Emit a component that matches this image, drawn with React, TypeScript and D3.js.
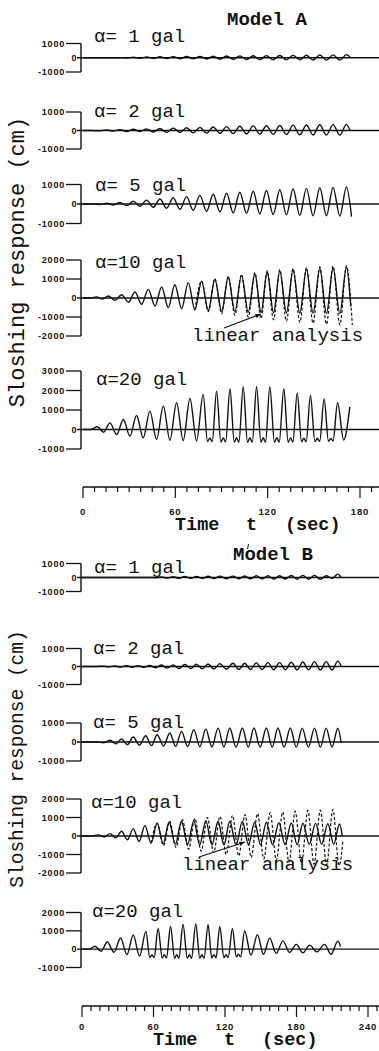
import * as d3 from "d3";
import { useEffect, useRef } from "react";

type Pt = [number, number];

const W = 379;
const H = 1051;

// time-axis ticks (sec)
const timeTicksA = [0, 60, 120, 180];
const timeTicksB = [0, 60, 120, 180, 240];

// response-axis ticks (cm)
const ticksPm1 = [-1000, 0, 1000];
const ticksPm2 = [-2000, -1000, 0, 1000, 2000];
const ticksA20 = [-1000, 0, 1000, 2000, 3000];
const ticksB20 = [-1000, 0, 1000, 2000];

const alphaLabels = ["α= 1 gal", "α= 2 gal", "α= 5 gal", "α=10 gal", "α=20 gal"];

const a1: Pt[] = [[0,0],[24,0],[28.4,-20],[32.7,40],[37,-40],[41.3,60],[45.7,-50],[50,70],[54.3,-60],[58.6,80],[63,-70],[67.3,90],[71.6,-80],[76,100],[80.3,-90],[84.6,110],[89,-100],[93.3,120],[97.6,-110],[101.9,130],[106.3,-120],[110.6,140],[114.9,-130],[119.2,150],[123.6,-140],[127.9,160],[132.2,-150],[136.5,170],[140.9,-150],[145.2,180],[149.5,-160],[153.9,190],[158.2,-170],[162.5,200],[166.9,-170],[171.2,220],[174,0]];
const a2: Pt[] = [[0,0],[6,0],[11,-20],[15.4,30],[19.7,-30],[24,50],[28.4,-50],[32.7,70],[37,-60],[41.3,90],[45.7,-80],[50,110],[54.3,-100],[58.6,130],[63,-110],[67.3,150],[71.6,-130],[76,170],[80.3,-140],[84.6,190],[89,-160],[93.3,210],[97.6,-170],[101.9,230],[106.3,-190],[110.6,250],[114.9,-200],[119.2,260],[123.6,-210],[127.9,270],[132.2,-220],[136.5,290],[140.9,-230],[145.2,300],[149.5,-240],[153.9,310],[158.2,-250],[162.5,320],[166.9,-250],[171.2,330],[173.5,0]];
const a5g: Pt[] = [[0,0],[8,0],[11,-30],[15.4,40],[19.7,-50],[24,80],[28.4,-80],[32.7,140],[37,-120],[41.3,200],[45.7,-170],[50,260],[54.3,-220],[58.6,320],[63,-270],[67.3,380],[71.6,-320],[76,440],[80.3,-370],[84.6,500],[89,-410],[93.3,550],[97.6,-450],[101.9,600],[106.3,-480],[110.6,650],[114.9,-510],[119.2,690],[123.6,-540],[127.9,730],[132.2,-560],[136.5,770],[140.9,-580],[145.2,800],[149.5,-600],[153.9,830],[158.2,-610],[162.5,850],[166.9,-620],[171.2,870],[174.5,-650]];
const a10: Pt[] = [[0,0],[5,0],[8.9,60],[12.7,-60],[16.5,105],[20.8,-120],[25.1,175],[29.5,-220],[33.8,315],[38.1,-330],[42.4,455],[46.8,-420],[51.1,580],[55.4,-500],[59.7,700],[64.1,-560],[68.4,810],[72.7,-620],[77.1,880],[81.4,-660],[85.7,980],[90.1,-700],[94.4,1090],[98.7,-720],[103,1190],[107.4,-740],[111.7,1280],[115.7,-760],[119.7,1370],[123.8,-780],[127.9,1420],[132.2,-780],[136.5,1470],[140.9,-800],[145.2,1520],[149.5,-800],[153.9,1560],[158.2,-820],[162.5,1580],[166.9,-820],[171.2,1620],[174,-450]];
const a10lin: Pt[] = [[72.7,-620],[77.1,880],[81.4,-720],[85.7,1010],[90.1,-820],[94.4,1130],[98.7,-900],[103,1240],[107.4,-1000],[111.7,1340],[115.7,-1080],[119.7,1430],[123.8,-1150],[127.9,1490],[132.2,-1220],[136.5,1550],[140.9,-1280],[145.2,1600],[149.5,-1330],[153.9,1640],[158.2,-1380],[162.5,1680],[166.9,-1420],[171.2,1700],[175,-1420]];
const a20: Pt[] = [[0,0],[5,0],[9.3,140],[13.4,-140],[17.5,340],[21.9,-260],[26.2,510],[30.5,-340],[34.8,720],[39.1,-430],[43.5,940],[47.8,-510],[52.2,1200],[56.5,-550],[60.8,1370],[65.1,-570],[69.5,1590],[73.8,-590],[78.1,1800],[80.9,-620],[82.4,-440],[84,-620],[86.8,1970],[89.6,-640],[91.1,-430],[92.7,-640],[95.5,2090],[98.3,-650],[99.8,-420],[101.3,-650],[104.1,2190],[106.9,-650],[108.45,-420],[110,-650],[112.8,2190],[115.6,-650],[117.1,-420],[118.6,-650],[121.4,2190],[124.4,-650],[126,-420],[127.5,-650],[130.5,2090],[133.3,-650],[134.85,-430],[136.4,-640],[139.2,1880],[142,-630],[143.5,-440],[145,-630],[147.8,1740],[150.7,-620],[152.25,-450],[153.8,-610],[156.7,1570],[159.5,-600],[161,-460],[162.5,-590],[165.4,1370],[169.4,-540],[173.4,1160]];

// Model B traces
const b1: Pt[] = [[0,0],[60,0],[61.8,-20],[66.7,40],[71.6,-40],[76.5,60],[81.4,-60],[86.3,70],[91.2,-60],[96.1,80],[101,-70],[105.8,90],[110.7,-80],[115.6,100],[121.2,-90],[126.7,100],[131.6,-90],[136.5,110],[141.4,-100],[146.3,120],[151.2,-100],[156,120],[160.9,-110],[165.8,130],[170.7,-110],[175.6,140],[180.5,-120],[185.3,150],[190.2,-120],[195.1,150],[200,-130],[204.9,130],[209.8,-60],[214.7,240],[217.5,0]];
const b2: Pt[] = [[0,0],[12,0],[17.7,20],[22.6,-20],[27.5,30],[32.4,-30],[37.3,40],[42.2,-40],[47.1,50],[52,-50],[56.9,60],[61.8,-70],[66.7,80],[71.6,-90],[76.5,90],[81.4,-110],[86.3,110],[91.2,-120],[96.1,125],[101,-130],[105.8,140],[110.7,-140],[115.6,160],[121.2,-150],[126.7,180],[131.6,-160],[136.5,180],[141.4,-170],[146.3,200],[151.2,-170],[156,215],[160.9,-180],[165.8,215],[170.7,-180],[175.6,235],[180.5,-190],[185.3,250],[190.2,-190],[195.1,270],[200,-200],[204.9,270],[209.8,-200],[214.7,300],[217.5,0]];
const b5g: Pt[] = [[0,0],[12,0],[18.4,-40],[23.5,90],[28.4,-100],[33.2,160],[38.1,-140],[43,260],[48.2,-170],[53.4,330],[58.3,-190],[63.1,385],[68.4,-210],[73.7,470],[78.6,-230],[83.5,560],[88.7,-240],[93.8,650],[98.9,-250],[103.9,680],[109,-260],[114.2,730],[119.1,-260],[124,740],[129.3,-270],[134.6,740],[139.5,-270],[144.3,740],[149.5,-270],[154.7,740],[159.6,-270],[164.4,740],[169.6,-270],[174.8,740],[179.8,-270],[184.8,730],[190,-270],[195.1,730],[200,-270],[204.9,730],[209.8,-270],[214.7,720],[217.5,-50]];
const b10: Pt[] = [[0,0],[8,0],[13.7,60],[18.6,-50],[23.5,130],[28.4,-100],[33.2,260],[38.1,-200],[43,400],[47.9,-300],[52.8,560],[58,-380],[63.1,680],[68.1,-420],[73.1,760],[78.3,-450],[83.5,800],[88.6,-460],[93.8,820],[98.8,-470],[103.9,820],[109,-480],[114.2,800],[119.1,-480],[124,800],[129.3,-480],[134.6,780],[139.7,-480],[144.9,760],[149.8,-470],[154.7,740],[160,-470],[165.2,720],[170.4,-460],[175.6,700],[180.5,-460],[185.4,690],[190.7,-450],[196,680],[201.1,-450],[206.3,660],[211.2,-440],[216.1,650],[218.5,0]];
const b10lin: Pt[] = [[58,-380],[63.1,700],[68.4,-520],[73.6,800],[78.9,-620],[84.2,880],[89.5,-720],[94.7,950],[100,-820],[105.2,1000],[110.5,-900],[115.8,1060],[121,-1000],[126.3,1110],[131.5,-1080],[136.8,1160],[142,-1160],[147.3,1210],[152.6,-1240],[157.9,1260],[163.1,-1320],[168.4,1300],[173.7,-1400],[178.9,1340],[184.2,-1460],[189.5,1380],[194.7,-1520],[200,1400],[205.3,-1560],[210.5,1430],[215.8,-1600],[219,-200]];
const b20: Pt[] = [[0,0],[6,0],[10.9,160],[16,-120],[21.2,390],[26.8,-170],[32.4,610],[37.7,-300],[43,770],[48.3,-380],[53.6,970],[56.9,-460],[58.7,-300],[60.5,-470],[63.9,1130],[67.3,-480],[69.1,-300],[70.9,-480],[74.3,1240],[77.7,-490],[79.5,-300],[81.3,-490],[84.8,1350],[88.3,-490],[90.1,-300],[91.9,-490],[95.5,1370],[98.8,-490],[100.6,-300],[102.4,-490],[105.8,1330],[108.9,-480],[110.7,-300],[112.5,-480],[115.6,1230],[119.1,-460],[120.9,-300],[122.7,-460],[126.2,1130],[129.5,-420],[131.3,-280],[133.1,-420],[136.5,1000],[141.8,-330],[147.2,790],[152.3,-280],[157.5,600],[163,-230],[168.6,450],[174.2,-180],[179.8,260],[185.4,-200],[191,220],[197.2,-150],[203.5,260],[209,-280],[214.7,440],[217,150]];

const MONO = "'Liberation Mono', 'Courier New', monospace";
const SANS = "'Liberation Sans', Arial, sans-serif";

type Panel = { data: Pt[]; lin?: Pt[]; ticks: number[]; top: number; bot: number; lx: number; ly: number };

// layout of each strip: pixel span of the tick range, label anchor
const panelsA: Panel[] = [
  { data: a1, ticks: ticksPm1, top: 43.5, bot: 72, lx: 94, ly: 42 },
  { data: a2, ticks: ticksPm1, top: 112, bot: 149, lx: 94, ly: 117 },
  { data: a5g, ticks: ticksPm1, top: 184.5, bot: 223.5, lx: 95, ly: 191 },
  { data: a10, lin: a10lin, ticks: ticksPm2, top: 260, bot: 336, lx: 95, ly: 268 },
  { data: a20, ticks: ticksA20, top: 371, bot: 449, lx: 96, ly: 385 },
];
const panelsB: Panel[] = [
  { data: b1, ticks: ticksPm1, top: 563.5, bot: 591.5, lx: 94, ly: 573 },
  { data: b2, ticks: ticksPm1, top: 648.5, bot: 684.5, lx: 93, ly: 654 },
  { data: b5g, ticks: ticksPm1, top: 723, bot: 761, lx: 93, ly: 728 },
  { data: b10, lin: b10lin, ticks: ticksPm2, top: 799, bot: 873, lx: 91, ly: 808 },
  { data: b20, ticks: ticksB20, top: 912.5, bot: 967.5, lx: 92, ly: 917 },
];

export default function App() {
  const ref = useRef<SVGSVGElement>(null);

  useEffect(() => {
    if (!ref.current) return;
    const svg = d3.select(ref.current);
    svg.selectAll("*").remove();
    svg.append("rect").attr("width", W).attr("height", H).attr("fill", "#fff");

    const axisX = 81;
    const ink = "#111";

    const drawModel = (
      panels: Panel[],
      x: d3.ScaleLinear<number, number>,
      tTicks: number[],
      axisY: number,
      labelY: number,
      titleY: number,
      timeX: [number, number, number]
    ) => {
      panels.forEach((p, i) => {
        const lo = p.ticks[0];
        const hi = p.ticks[p.ticks.length - 1];
        const y = d3.scaleLinear().domain([lo, hi]).range([p.bot, p.top]);
        const g = svg.append("g");

        g.append("line")
          .attr("x1", axisX).attr("x2", axisX)
          .attr("y1", y(hi)).attr("y2", y(lo))
          .attr("stroke", ink).attr("stroke-width", 1.4);

        p.ticks.forEach((t) => {
          const yy = y(t);
          if (t === 0) {
            g.append("line")
              .attr("x1", 77).attr("x2", W)
              .attr("y1", yy).attr("y2", yy)
              .attr("stroke", ink).attr("stroke-width", 1.4);
            g.append("text")
              .attr("x", 76.5).attr("y", yy)
              .attr("text-anchor", "end").attr("dominant-baseline", "central")
              .attr("font-family", SANS).attr("font-size", 9).attr("font-weight", "bold")
              .attr("fill", ink).text("0");
          } else {
            g.append("line")
              .attr("x1", 66).attr("x2", axisX)
              .attr("y1", yy).attr("y2", yy)
              .attr("stroke", ink).attr("stroke-width", 1.3);
            g.append("text")
              .attr("x", 65).attr("y", yy)
              .attr("text-anchor", "end").attr("dominant-baseline", "central")
              .attr("font-family", SANS).attr("font-size", 9).attr("font-weight", "bold")
              .attr("letter-spacing", 0.8)
              .attr("fill", ink).text(String(t));
          }
        });

        const line = d3.line<Pt>()
          .x((d) => x(d[0]))
          .y((d) => y(d[1]))
          .curve(d3.curveMonotoneX);

        if (p.lin) {
          g.append("path")
            .attr("d", line(p.lin))
            .attr("fill", "none").attr("stroke", ink)
            .attr("stroke-width", 1.2).attr("stroke-dasharray", "3,2");
        }
        g.append("path")
          .attr("d", line(p.data))
          .attr("fill", "none").attr("stroke", ink)
          .attr("stroke-width", 1.4);

        g.append("text")
          .attr("x", p.lx).attr("y", p.ly)
          .attr("font-family", MONO).attr("font-size", 19)
          .attr("fill", ink).text(alphaLabels[i]);
      });

      // time axis
      const x0 = x.range()[0];
      const tMax = x.invert(W);
      svg.append("line")
        .attr("x1", x0).attr("x2", W)
        .attr("y1", axisY).attr("y2", axisY)
        .attr("stroke", ink).attr("stroke-width", 1.6);
      d3.range(0, tMax, 7.5).forEach((t) => {
        const major = tTicks.includes(t);
        svg.append("line")
          .attr("x1", x(t)).attr("x2", x(t))
          .attr("y1", axisY).attr("y2", axisY + (major ? 11 : 5))
          .attr("stroke", ink).attr("stroke-width", 1.2);
      });
      tTicks.forEach((t) => {
        svg.append("text")
          .attr("x", x(t)).attr("y", labelY)
          .attr("text-anchor", "middle")
          .attr("font-family", SANS).attr("font-size", 9.5).attr("font-weight", "bold")
          .attr("letter-spacing", 0.8)
          .attr("fill", ink).text(String(t));
      });
      const tt = [["Time", timeX[0]], ["t", timeX[1]], ["(sec)", timeX[2]]] as const;
      tt.forEach(([s, xx]) => {
        svg.append("text")
          .attr("x", xx).attr("y", titleY)
          .attr("font-family", MONO).attr("font-size", 18.5).attr("font-weight", "bold")
          .attr("fill", ink).text(s);
      });
    };

    const xA = d3.scaleLinear().domain([0, 180]).range([83, 360]);
    const xB = d3.scaleLinear().domain([0, 240]).range([82, 368]);

    drawModel(panelsA, xA, timeTicksA, 487, 515, 530, [175, 246, 285]);
    drawModel(panelsB, xB, timeTicksB, 1006, 1030, 1045, [153, 224, 262]);

    // titles
    svg.append("text").attr("x", 227).attr("y", 25)
      .attr("font-family", MONO).attr("font-size", 19).attr("font-weight", "bold")
      .attr("fill", ink).text("Model A");
    svg.append("text").attr("x", 233).attr("y", 560)
      .attr("font-family", MONO).attr("font-size", 19).attr("font-weight", "bold")
      .attr("fill", ink).text("Model B");
    svg.append("line").attr("x1", 248.5).attr("y1", 544).attr("x2", 247.5).attr("y2", 549)
      .attr("stroke", ink).attr("stroke-width", 1);

    // y-axis titles (the lower half of the scan is set a little smaller)
    [[262, 22], [759, 19.5]].forEach(([cy, fs]) => {
      svg.append("text")
        .attr("transform", `translate(${fs > 20 ? 24 : 23},${cy}) rotate(-90)`)
        .attr("text-anchor", "middle")
        .attr("font-family", MONO).attr("font-size", fs)
        .attr("fill", ink).text("Sloshing response  (cm)");
    });

    // "linear analysis" callouts
    const callout = (tx: number, ty: number, ax1: number, ay1: number, ax2: number, ay2: number) => {
      svg.append("text").attr("x", tx).attr("y", ty)
        .attr("font-family", MONO).attr("font-size", 19)
        .attr("fill", ink).text("linear analysis");
      svg.append("line").attr("x1", ax1).attr("y1", ay1).attr("x2", ax2).attr("y2", ay2)
        .attr("stroke", ink).attr("stroke-width", 1.2);
      const ang = Math.atan2(ay2 - ay1, ax2 - ax1);
      const L = 6, s = 0.35;
      const pts = [
        [ax2, ay2],
        [ax2 - L * Math.cos(ang - s), ay2 - L * Math.sin(ang - s)],
        [ax2 - L * Math.cos(ang + s), ay2 - L * Math.sin(ang + s)],
      ];
      svg.append("polygon").attr("points", pts.map((p) => p.join(",")).join(" ")).attr("fill", ink);
    };
    callout(192, 341, 224, 328, 261, 314);
    callout(182, 870, 199, 857, 245, 842);
  }, []);

  return (
    <svg
      ref={ref}
      width={W}
      height={H}
      viewBox={`0 0 ${W} ${H}`}
      style={{ position: "absolute", left: 0, top: 0, display: "block" }}
    />
  );
}
